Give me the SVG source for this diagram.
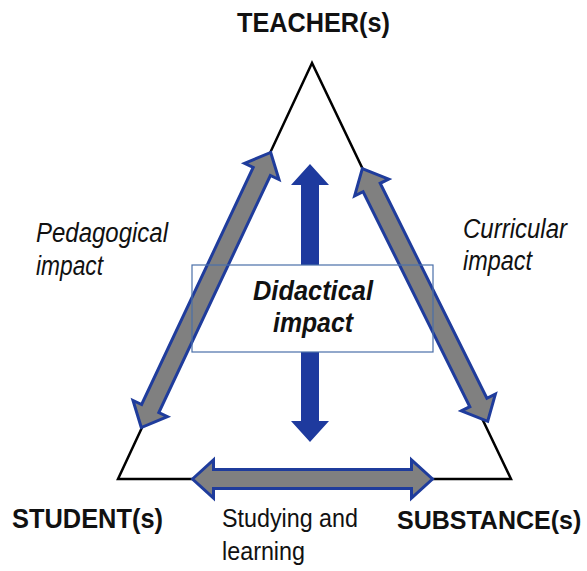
<svg xmlns="http://www.w3.org/2000/svg" width="587" height="571" viewBox="0 0 587 571">
<style>
.lbl{font-family:"Liberation Sans",Arial,sans-serif;fill:#111}
.b{font-weight:bold;font-size:28px}
.i{font-style:italic;font-size:27px}
.r{font-size:26.5px}
.d{font-weight:bold;font-style:italic;font-size:27px}
.ga{fill:#808080;stroke:#1F3C9C;stroke-width:3;stroke-linejoin:miter}
</style>
<rect width="587" height="571" fill="#fff"/>
<g id="triangle">
<polygon points="312,63 118,479 511,479" fill="none" stroke="#000" stroke-width="2.5"/>
</g>
<g id="connectors">
<g id="didactical-arrow">
<polygon points="310,164 329,185 319,185 319,421 329,421 310,442 291,421 301,421 301,185 291,185" fill="#1E3A9E"/>
</g>
<g id="box">
<rect x="192" y="265" width="241" height="87" fill="#fff"/>
</g>
<g id="pedagogical-arrow" transform="translate(206,290) rotate(-64.8)">
<polygon class="ga" points="-152,0 -131,-19 -131,-9.5 131,-9.5 131,-19 152,0 131,19 131,9.5 -131,9.5 -131,19"/>
</g>
<g id="curricular-arrow" transform="translate(425,295) rotate(63.6)">
<polygon class="ga" points="-141,0 -120,-19 -120,-9.5 120,-9.5 120,-19 141,0 120,19 120,9.5 -120,9.5 -120,19"/>
</g>
<g id="studying-arrow" transform="translate(312.5,479)">
<polygon class="ga" points="-120,0 -99,-19 -99,-9.5 99,-9.5 99,-19 120,0 99,19 99,9.5 -99,9.5 -99,19"/>
</g>
</g>
<g id="didactical-box">
<rect x="192" y="265" width="241" height="87" fill="none" stroke="#4A6FA8" stroke-width="1.2"/>
<text class="lbl d" x="253" y="300" textLength="120" lengthAdjust="spacingAndGlyphs">Didactical</text>
<text class="lbl d" x="273" y="332" textLength="80" lengthAdjust="spacingAndGlyphs">impact</text>
</g>
<g id="teacher"><text class="lbl b" x="237" y="32" textLength="153" lengthAdjust="spacingAndGlyphs">TEACHER(s)</text></g>
<g id="student"><text class="lbl b" x="12" y="528" textLength="151" lengthAdjust="spacingAndGlyphs">STUDENT(s)</text></g>
<g id="substance"><text class="lbl" x="397" y="529" font-weight="bold" font-size="25">SUBSTANCE(s)</text></g>
<g id="studying"><text class="lbl r" x="222" y="527" textLength="136" lengthAdjust="spacingAndGlyphs">Studying and</text><text class="lbl r" x="222" y="560" textLength="83" lengthAdjust="spacingAndGlyphs">learning</text></g>
<g id="pedagogical"><text class="lbl i" x="36" y="242" textLength="132" lengthAdjust="spacingAndGlyphs">Pedagogical</text><text class="lbl i" x="36" y="275" textLength="67" lengthAdjust="spacingAndGlyphs">impact</text></g>
<g id="curricular"><text class="lbl i" x="463" y="238" textLength="104" lengthAdjust="spacingAndGlyphs">Curricular</text><text class="lbl i" x="463" y="270" textLength="69" lengthAdjust="spacingAndGlyphs">impact</text></g>
</svg>
